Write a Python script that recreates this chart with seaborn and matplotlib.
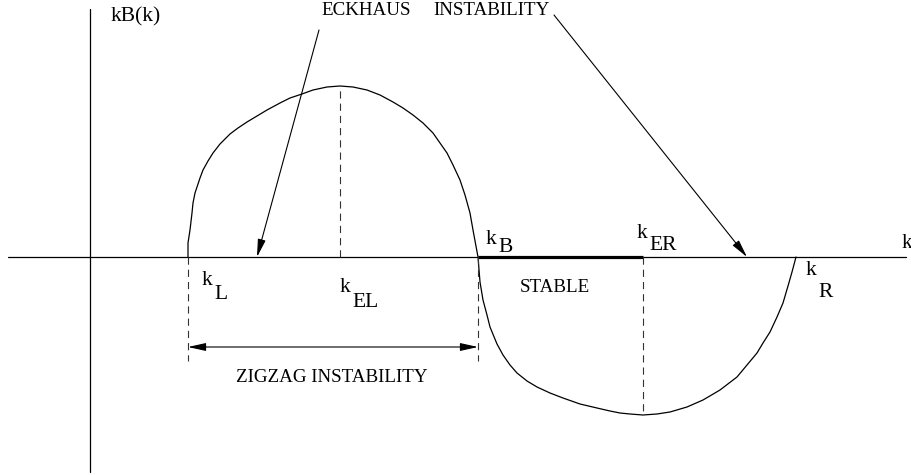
import numpy as np
import pandas as pd
import matplotlib
matplotlib.use("Agg")
import matplotlib.pyplot as plt
import seaborn as sns

# Growth-rate curve kB(k) against wavenumber k (arbitrary units)
k_vals = [98, 98, 100, 102, 103, 105, 107, 110, 113, 118, 123, 130, 140, 148,
          157, 167, 177, 190, 200, 212, 223, 237, 250, 263, 277, 290, 303, 313,
          323, 333, 343, 350, 357, 363, 370, 375, 380, 383, 388,
          390, 393, 397, 400, 407, 413, 420, 427, 437, 447, 460, 473, 490, 507,
          520, 530, 540, 553, 567, 580, 597, 613, 630, 647, 667, 673, 680, 687,
          693, 698, 702, 706]
kb_vals = [0, 14, 27, 44, 54, 64, 70, 79, 87, 96, 104, 113, 123, 129,
           135, 141, 147, 154, 159, 163, 167, 170, 171, 170, 167, 162, 155, 149,
           142, 134, 124, 114, 104, 92, 77, 62, 44, 27, 0,
           -25, -43, -58, -70, -87, -98, -108, -116, -124, -130, -136, -141, -147, -151,
           -154, -156, -157, -158, -157, -155, -150, -143, -133, -120, -96, -86, -75, -60,
           -46, -29, -15, 0]

# Characteristic wavenumbers
k_L, k_EL, k_B, k_ER, k_R = 98, 250, 388, 553, 706
kb_EL_peak = 171
kb_ER_min = -158

sns.set_style("white")
plt.rcParams["font.family"] = ["Liberation Serif", "DejaVu Serif"]

fig = plt.figure(figsize=(9.12, 4.75), dpi=100)
ax = fig.add_axes([0, 0, 1, 1])
ax.set_xlim(-90, 822)
ax.set_ylim(-218, 257)
ax.axis("off")

ink = "black"
# coordinate axes
ax.plot([-82, 816], [0, 0], color=ink, lw=0.9)
ax.plot([0, 0], [-215, 248], color=ink, lw=0.9)

# stable band on the k axis
ax.plot([k_B, k_ER], [0, 0], color=ink, lw=2.3, solid_capstyle="butt")

# the curve
df = pd.DataFrame({"k": k_vals, "kB": kb_vals})
sns.lineplot(data=df, x="k", y="kB", sort=False, estimator=None,
             color=ink, lw=0.9, ax=ax, solid_joinstyle="round")

# dashed guide lines
dash = dict(color="#333333", lw=0.8, dashes=(6.5, 4.5))
ax.plot([k_EL, k_EL], [0, kb_EL_peak], **dash)
ax.plot([k_L, k_L], [0, -104], **dash)
ax.plot([k_B, k_B], [0, -104], **dash)
ax.plot([k_ER, k_ER], [0, kb_ER_min], **dash)

# arrows
head = "-|>,head_length=0.9,head_width=0.2"
ax.annotate("", xy=(167, 0), xytext=(229, 227),
            arrowprops=dict(arrowstyle=head, color=ink, lw=0.8,
                            mutation_scale=12, shrinkA=0, shrinkB=0))
ax.annotate("", xy=(657, 0), xytext=(464, 242),
            arrowprops=dict(arrowstyle=head, color=ink, lw=0.8,
                            mutation_scale=12, shrinkA=0, shrinkB=0))
ax.annotate("", xy=(k_L, -90), xytext=(k_B, -90),
            arrowprops=dict(arrowstyle="<|-|>,head_length=0.9,head_width=0.2",
                            color=ink, lw=0.8, mutation_scale=12,
                            shrinkA=0, shrinkB=0))

fs = 13.7
txt = dict(ha="left", va="baseline", color=ink)
ax.text(21, 236, "kB(k)", fontsize=15.5, **txt)
ax.text(812, 9, "k", fontsize=15, **txt)
ax.text(231, 242, "ECKHAUS", fontsize=fs, **txt)
ax.text(343, 242, "INSTABILITY", fontsize=fs, **txt)
ax.text(146, -125, "ZIGZAG INSTABILITY", fontsize=fs, **txt)
ax.text(430, -35, "STABLE", fontsize=fs, **txt)


def klabel(x, y, sub, drop):
    ax.text(x, y, "k", fontsize=15.5, **txt)
    ax.text(x + 12.5, y - drop, sub, fontsize=15.5, **txt)


klabel(112, -28, "L", 14)
klabel(250, -35, "EL", 15)
klabel(396, 13, "B", 8)
klabel(547, 19, "ER", 12)
klabel(716, -18, "R", 22)

fig.savefig("out.png", dpi=100)
